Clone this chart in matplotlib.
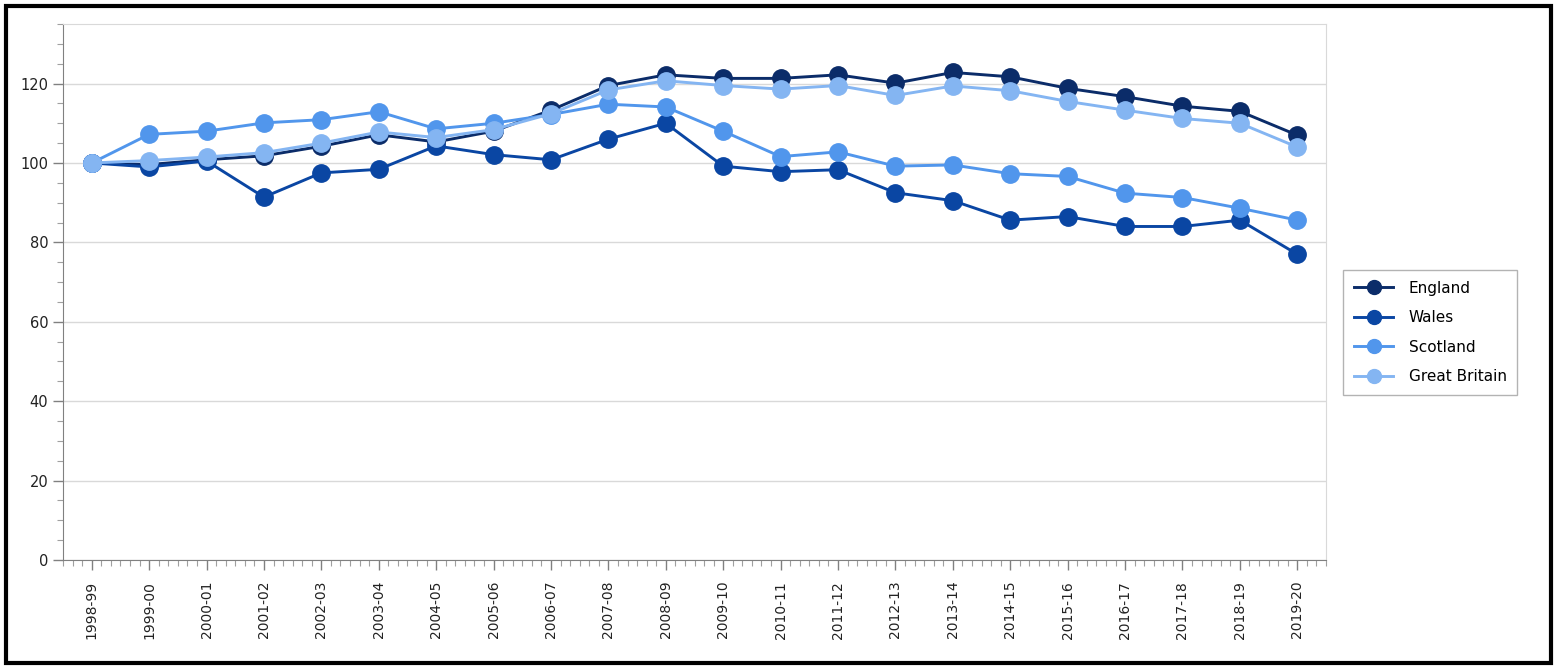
import matplotlib
matplotlib.use("Agg")
import matplotlib.pyplot as plt
from matplotlib.patches import Rectangle
from matplotlib.ticker import MultipleLocator
import numpy as np

years = ["1998-99", "1999-00", "2000-01", "2001-02", "2002-03", "2003-04", "2004-05",
         "2005-06", "2006-07", "2007-08", "2008-09", "2009-10", "2010-11", "2011-12",
         "2012-13", "2013-14", "2014-15", "2015-16", "2016-17", "2017-18", "2018-19",
         "2019-20"]

england = [100, 99.6, 100.8, 101.8, 104.2, 107.1, 105.3, 108.0, 113.3, 119.5, 122.2,
           121.3, 121.3, 122.2, 120.1, 122.8, 121.7, 118.8, 116.7, 114.3, 113.0, 107.0]
wales = [100, 99.0, 100.5, 91.4, 97.5, 98.4, 104.3, 102.1, 100.8, 106.0, 110.0,
         99.2, 97.8, 98.3, 92.5, 90.5, 85.6, 86.5, 84.0, 84.0, 85.6, 77.0]
scotland = [100, 107.2, 108.0, 110.1, 110.9, 112.9, 108.6, 110.0, 112.2, 114.8, 114.1,
            108.0, 101.6, 102.8, 99.2, 99.5, 97.3, 96.6, 92.4, 91.3, 88.6, 85.6]
great_britain = [100, 100.6, 101.5, 102.6, 105.0, 107.8, 106.4, 108.4, 112.4, 118.4, 120.7,
                 119.5, 118.6, 119.5, 117.0, 119.4, 118.2, 115.5, 113.3, 111.2, 110.0, 104.0]

series = [("England", england, "#0b2c69"),
          ("Wales", wales, "#0a46a3"),
          ("Scotland", scotland, "#5196ec"),
          ("Great Britain", great_britain, "#84b5f2")]

plt.rcParams['font.family'] = ['DejaVu Sans']

fig = plt.figure(figsize=(15.57, 6.69), dpi=100)
ax = fig.add_axes([63/1557, 1-560/669, (1326-63)/1557, (560-24)/669])

x = np.arange(len(years))
for name, vals, col in series:
    ax.plot(x, vals, color=col, lw=2.1, marker='o', markersize=12.5,
            markerfacecolor=col, markeredgecolor=col, label=name, zorder=3)

ax.set_xlim(-0.5, len(years) - 0.5)
ax.set_ylim(0, 135)
ax.set_yticks([0, 20, 40, 60, 80, 100, 120])
ax.yaxis.set_minor_locator(MultipleLocator(5))
ax.set_xticks(x)
ax.set_xticklabels(years, rotation=90, fontsize=10, color="#222222")
ax.xaxis.set_minor_locator(MultipleLocator(1/6))
ax.tick_params(axis='y', labelsize=10.5, labelcolor="#222222")
ax.tick_params(axis='both', which='major', length=7, width=1, color="#808080")
ax.tick_params(axis='both', which='minor', length=4, width=0.8, color="#a0a0a0")
ax.tick_params(axis='x', which='major', pad=8)
ax.grid(axis='y', which='major', color="#d9d9d9", lw=1)
ax.set_axisbelow(True)
for s in ['top', 'right']:
    ax.spines[s].set_color("#d9d9d9")
for s in ['left', 'bottom']:
    ax.spines[s].set_color("#808080")

leg = fig.legend(loc='upper left', bbox_to_anchor=(1343/1557, 1-270/669),
                 borderaxespad=0, fontsize=11, frameon=True, fancybox=False,
                 edgecolor="#a0a0a0", handlelength=2.6, handletextpad=1.0,
                 borderpad=0.7, labelspacing=0.95, markerscale=0.8)
leg.get_frame().set_linewidth(1)

fig.patches.append(Rectangle((6/1557, 6/669), (1551-6)/1557, (663-6)/669,
                             transform=fig.transFigure, fill=False,
                             edgecolor='black', lw=3, zorder=10))

fig.savefig("out.png", dpi=100)
